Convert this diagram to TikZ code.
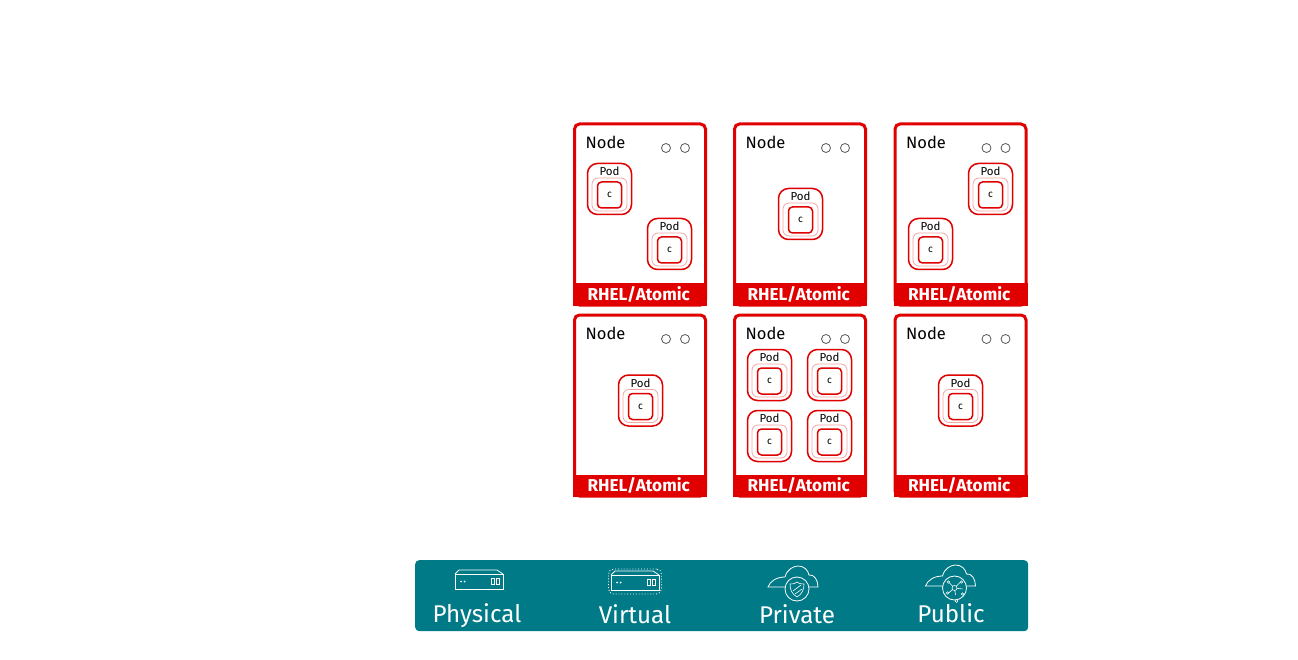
\documentclass[tikz,border=0pt]{standalone}
\usepackage{fontspec}
\setmainfont{Fira Sans}
\usepackage{xcolor}
\usetikzlibrary{positioning}
\definecolor{hatred}{HTML}{E00000}
\definecolor{hatpink}{HTML}{F5A5A5}
\definecolor{bandteal}{HTML}{007A87}
\tikzset{>=latex}
\tikzset{
    servericon/.pic={
        \draw[icon] (-24,-7.5) -- (-20,-11.5) -- (18,-11.5) -- (24,-7.5);
        \draw[icon] (-24,-7.5) rectangle (24,7.5);
        \fill[white] (-18,0) circle (1) (-14.5,0) circle (1);
        \draw[icon, line width=0.6pt] (12,-3) rectangle (15,3) (17,-3) rectangle (20,3);
    },
    cloudicon/.pic={
        \draw[icon] (-10,-2) -- (-29,-2) .. controls (-27,-8) and (-20,-12) .. (-12,-12)
            .. controls (-10,-20) and (-3,-23) .. (1,-23)
            .. controls (7,-23) and (11,-19) .. (12,-14)
            .. controls (17,-15) and (21,-9) .. (21,-2) -- (10,-2);
        \draw[icon, fill=bandteal] (0,0) circle (12);
    }
}
\begin{document}
\begin{tikzpicture}[
        x=1pt, y=-1pt,
        nodebox/.style={draw=hatred, line width=3pt, rounded corners=5pt, fill=white, minimum width=131pt, minimum height=181pt, anchor=north west, outer sep=0pt, inner sep=0pt},
        osband/.style={fill=hatred, minimum width=134pt, minimum height=22.5pt, anchor=south west, outer sep=0pt, inner sep=0pt, text=white, font=\fontsize{17.2}{17.2}\selectfont\bfseries},
        nodelabel/.style={anchor=west, inner sep=0pt, font=\fontsize{16.5}{16.5}\selectfont},
        led/.style={draw=black!65, line width=0.8pt, circle, minimum size=9pt, inner sep=0pt},
        podbox/.style={draw=hatred, line width=1.5pt, rounded corners=10pt, fill=white, minimum width=44pt, minimum height=51pt, anchor=north west, inner sep=0pt, outer sep=0pt},
        podhalo/.style={draw=hatpink, line width=0.8pt, rounded corners=6pt, minimum width=35pt, minimum height=33pt, inner sep=0pt},
        ctrbox/.style={draw=hatred, line width=1.5pt, rounded corners=4pt, minimum width=24pt, minimum height=26pt, inner sep=0pt, font=\fontsize{10}{10}\selectfont},
        podlabel/.style={inner sep=0pt, font=\fontsize{11.5}{11.5}\selectfont},
        icon/.style={draw=white, line width=0.8pt},
        bandlabel/.style={inner sep=0pt, text=white, font=\fontsize{24.2}{24.2}\selectfont}
    ]
    \useasboundingbox (0,0) rectangle (1298,660);
    % nodes
    \foreach \n/\x/\y in {na/574.5/124, nb/734.5/124, nc/895/124, nd/574.5/315, ne/734.5/315, nf/895/315} {
        \node[nodebox] (\n) at (\x,\y) {};
        \node[osband] (\n-os) at ([shift={(-1.5,1)}]\n.south west) {\hspace*{-2.5pt}\raisebox{1pt}{RHEL/Atomic}};
        \node[nodelabel] (\n-label) at ([shift={(11,18.5)}]\n.north west) {Node};
        \node[led] (\n-ledl) at ([shift={(91.5,24)}]\n.north west) {};
        \node[led] (\n-ledr) at ([shift={(110.5,24)}]\n.north west) {};
    }
    % pods
    \foreach \p/\x/\y in {pa/587.5/163.5, pb/647.5/218.5, pc/778.5/188.5, pd/968.5/163.5, pe/908.5/218.5, pf/618.5/375, pg/747.5/349.5, ph/807.5/349.5, pi/747.5/410.5, pj/807.5/410.5, pk/938.5/375} {
        \node[podbox] (\p) at (\x,\y) {};
        \node[podlabel] (\p-label) at ([yshift=-8pt]\p.north) {Pod};
        \node[podhalo] (\p-halo) at ([yshift=-5.5pt]\p.center) {};
        \node[ctrbox] (\p-ctr) at ([yshift=-6pt]\p.center) {c};
    }
    % platforms
    \node[fill=bandteal, rounded corners=4pt, minimum width=613pt, minimum height=71pt, anchor=north west, inner sep=0pt] (platforms) at (415,560) {};
    \pic at (479,581.5) {servericon};
    \pic at (635,582.5) {servericon};
    \node[draw=white, dotted, line width=0.9pt, rounded corners=5pt, minimum width=53pt, minimum height=25pt, inner sep=0pt] (virtualframe) at (635,581.5) {};
    \pic at (797,589) {cloudicon};
    \pic at (954.5,588) {cloudicon};
    % shield
    \draw[icon, line width=0.6pt] (790,584) .. controls (794,584) and (796,583) .. (797,582) .. controls (798,583) and (800,584) .. (804,584) .. controls (804,590) and (802,594) .. (797,597) .. controls (792,594) and (790,590) .. (790,584) -- cycle;
    \draw[icon, line width=0.6pt] (793,591) -- (801,585) (795,594) -- (802,589);
    % hub
    \coordinate (hub) at (954.5,588);
    \draw[icon, line width=0.6pt] (hub) -- ++(-5,-5) (hub) -- ++(6,-6) (hub) -- ++(-6,5) (hub) -- ++(8,1) (hub) -- ++(1,7);
    \draw[icon, line width=0.6pt, fill=bandteal] (hub) circle (2.5) ++(-6,-6) circle (1.3) ++(13,-0) circle (1.3) ++(-14,11) circle (1.3) ++(15,1) circle (1.3) ++(-6,7) circle (1.5);
    % labels
    \node[bandlabel] (physical) at (477,616) {Physical};
    \node[bandlabel] (virtual) at (635,614.5) {Virtual};
    \node[bandlabel] (private) at (797,614) {Private};
    \node[bandlabel] (public) at (951,613) {Public};
\end{tikzpicture}
\end{document}
